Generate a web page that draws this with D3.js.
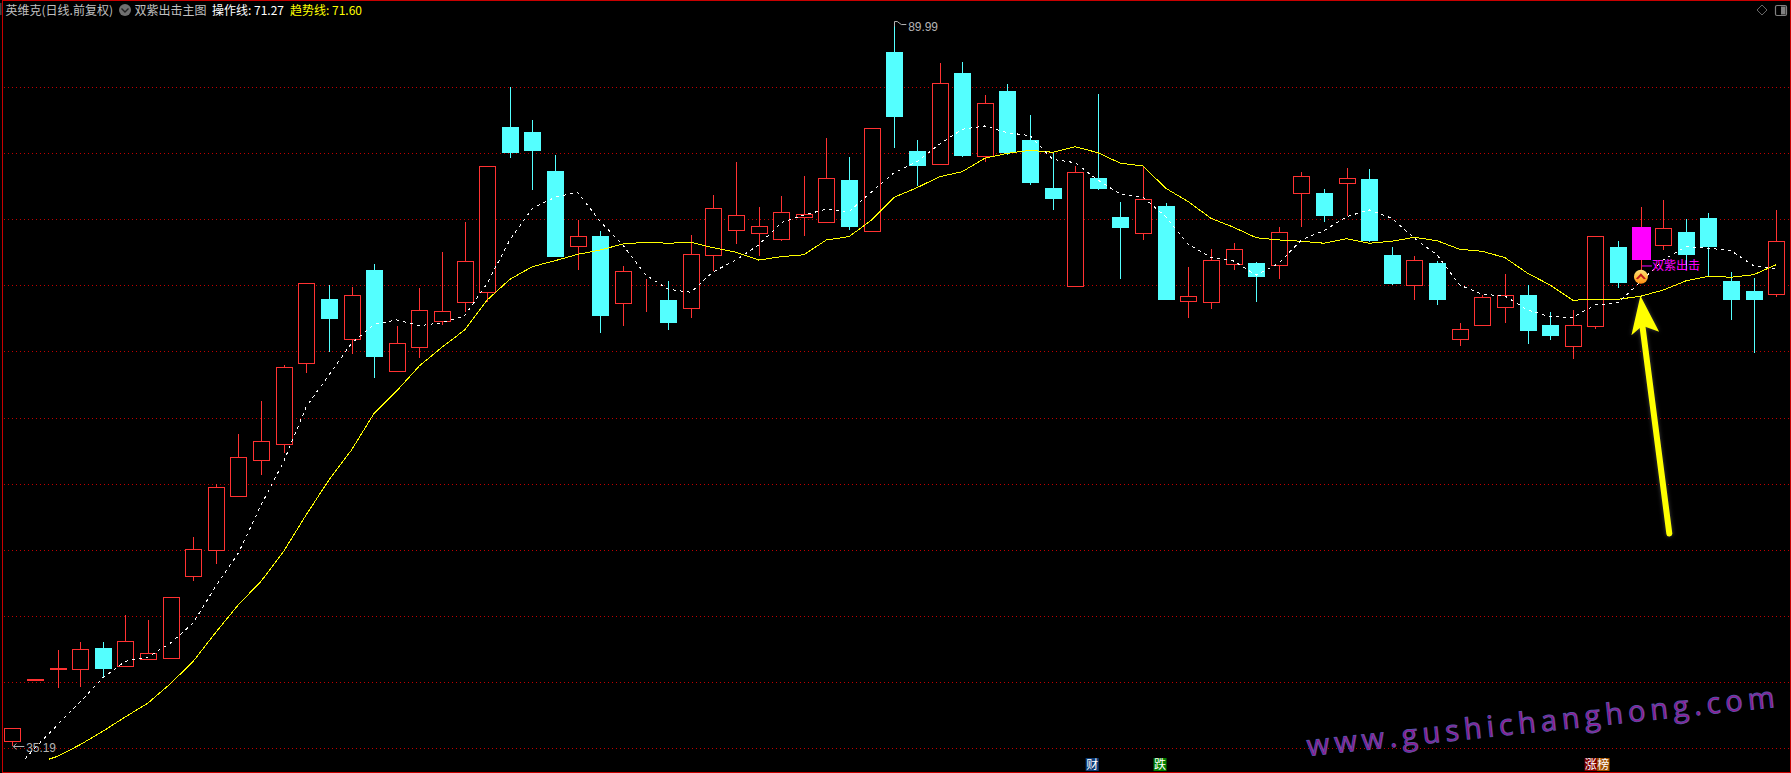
<!DOCTYPE html>
<html><head><meta charset="utf-8">
<script src="https://cdn.jsdelivr.net/npm/d3@7/dist/d3.min.js"></script>
<style>html,body{margin:0;padding:0;background:#000}svg{display:block}</style>
</head><body><svg id="c" width="1791" height="773"></svg>
<script>
const opens=[35.59,40.17,41.00,41.04,42.61,41.27,41.75,41.87,48.03,50.00,
54.08,56.85,58.01,64.14,69.00,66.00,71.20,63.53,65.35,67.32,
68.75,69.56,82.01,81.64,78.69,73.04,73.77,68.68,69.13,68.93,
68.30,72.35,74.20,73.97,73.52,75.18,74.81,78.00,74.12,87.69,
80.20,79.24,86.10,79.84,84.74,81.03,77.40,70.01,78.16,75.21,
74.02,76.04,68.87,68.80,71.67,71.73,71.55,77.00,77.02,77.80,
78.08,72.33,70.09,71.73,66.00,67.06,68.42,69.31,67.04,65.47,
66.98,72.94,74.43,73.11,74.07,75.13,70.37,69.61,69.40];
const closes=[36.53,40.25,41.08,42.51,41.04,43.11,42.20,46.44,50.07,54.76,
57.03,58.24,63.84,70.19,67.51,69.28,64.64,65.65,68.15,68.07,
71.85,79.04,80.07,80.22,72.20,73.75,67.74,71.10,69.13,67.21,
72.38,75.86,75.33,74.50,75.56,75.41,78.13,74.47,81.92,82.79,
79.06,85.32,79.82,83.81,80.05,77.78,76.57,78.59,77.32,74.37,
76.54,68.95,69.21,71.93,72.76,70.69,74.05,78.28,75.30,78.13,
73.39,70.14,71.93,68.95,66.71,69.13,69.28,66.61,66.23,67.01,
73.75,70.24,71.98,74.35,72.35,72.94,68.95,68.95,73.37];
const highs=[36.53,40.25,42.45,43.04,43.04,45.08,44.70,46.44,51.00,55.01,
58.79,61.29,63.99,70.19,70.04,69.89,71.65,66.96,69.84,72.58,
74.83,79.04,85.02,82.52,79.87,74.96,74.12,71.48,70.49,70.34,
73.82,76.85,79.34,75.94,76.77,78.28,81.16,79.72,81.92,89.99,
81.03,86.83,86.93,84.41,85.24,82.90,80.10,79.04,84.51,76.34,
79.01,76.24,71.40,72.76,73.22,71.78,74.43,78.59,77.30,78.89,
78.81,72.91,72.23,71.88,67.17,69.33,70.87,70.04,68.00,68.15,
73.75,73.37,75.94,76.49,75.03,75.49,71.02,70.57,75.71];
const lows=[35.19,40.17,39.60,39.68,40.41,41.27,41.75,41.87,47.70,48.98,
54.08,55.71,57.38,63.43,65.02,64.87,63.05,63.53,64.56,67.04,
68.04,68.75,79.69,77.27,72.20,71.22,66.45,66.98,68.04,66.68,
67.59,71.10,73.19,72.28,73.41,73.79,74.81,74.25,74.12,80.45,
77.57,79.24,79.77,79.39,79.92,77.63,75.74,70.01,77.25,70.54,
73.47,68.95,67.59,68.27,71.22,68.80,70.54,74.47,74.85,75.28,
73.32,70.06,68.95,68.57,65.47,67.06,67.21,65.62,65.93,64.49,
66.76,69.86,71.05,72.73,71.20,70.74,67.44,64.94,69.18];
// 操作线, from the second candle on
const opLead=[0.56,34.21];
const opLine=[35.04,36.80,38.52,40.34,41.60,41.92,42.98,44.50,47.29,
49.79,53.42,56.70,60.86,63.25,65.65,67.09,67.42,66.98,67.21,
67.72,70.19,73.47,75.86,76.70,77.07,74.85,73.09,70.82,69.74,
69.51,71.07,71.95,73.09,74.77,75.36,75.79,75.61,77.12,78.56,
79.39,80.71,81.84,82.09,81.58,81.36,79.57,79.31,78.00,76.92,
76.70,75.23,73.14,72.16,71.88,70.80,71.70,73.47,74.17,75.23,
75.74,75.11,73.60,72.33,70.06,69.36,69.23,68.17,67.66,67.62,
68.55,68.72,70.31,71.95,72.96,72.84,72.66,71.52,71.27];
// 趋势线, from the third candle on
const trendLead=[1.62,34.19];
const trendLine=[34.41,35.29,36.30,37.39,38.44,39.91,41.60,43.79,
45.88,47.65,49.92,52.69,55.31,57.58,60.36,62.05,63.94,65.35,
66.66,68.93,70.49,71.45,71.90,72.38,72.71,73.16,73.29,73.22,
73.29,72.88,72.54,71.95,72.20,72.35,73.47,73.72,74.98,76.70,
77.42,78.25,78.63,79.65,80.02,80.25,80.10,80.52,80.07,79.27,
79.06,77.38,76.36,75.11,74.43,73.64,73.47,73.37,73.22,73.56,
73.22,73.37,73.67,73.41,72.76,72.61,72.13,70.95,70.06,68.91,
68.98,68.98,69.21,69.68,70.37,70.72,70.65,70.84,71.60];
const gridPrices=[35,40,45,50,55,60,65,70,75,80,85];
const highlightIndex=72;
const maxIndex=39, minIndex=0;
const arrowTip=[72,69.24], arrowTail=[73.27,51.26];
const eventTags=[
 {i:47.75,t:"财",bg:"#0c3c78",w:13},
 {i:50.75,t:"跌",bg:"#008000",w:13},
 {i:69.8,t:"涨",bg:"#800000",w:12.5},
 {i:70.35,t:"榜",bg:"#a05000",w:12.5}];

const RED="#ff3232",CYAN="#54ffff",CJK="'Noto Sans CJK SC','Liberation Sans',sans-serif";
const svg=d3.select("#c");
const W=1791,H=773;
const x=d3.scaleLinear().domain([0,78]).range([12.3,1776.3]);
const y=d3.scaleLinear().domain([35,85]).range([748.5,87.5]);
const snap=v=>Math.floor(v)+0.5;
const snapX=v=>Math.round(v)+0.5;

svg.append("rect").attr("width",W).attr("height",H).attr("fill","#000");

// grid
svg.append("g").selectAll("line").data(gridPrices).join("line")
 .attr("x1",4).attr("x2",1789)
 .attr("y1",d=>snap(y(d))).attr("y2",d=>snap(y(d)))
 .attr("stroke","#c00000").attr("stroke-width",1).attr("stroke-dasharray","1,3")
 .attr("shape-rendering","crispEdges");

// candles
const candles=opens.map((o,i)=>({i,o,c:closes[i],h:highs[i],l:lows[i]}));
const cg=svg.append("g").attr("shape-rendering","crispEdges");
candles.forEach(d=>{
  const up=d.c>=d.o, cx=snapX(x(d.i)), hl=d.i===highlightIndex;
  const top=Math.round(y(Math.max(d.o,d.c))), bot=Math.round(y(Math.min(d.o,d.c)));
  const wc=up||hl?RED:CYAN;
  cg.append("line").attr("x1",cx).attr("x2",cx).attr("y1",Math.round(y(d.h))).attr("y2",top).attr("stroke",wc);
  cg.append("line").attr("x1",cx).attr("x2",cx).attr("y1",bot).attr("y2",Math.round(y(d.l))).attr("stroke",wc);
  if(hl){
    cg.append("rect").attr("x",cx-9.5).attr("y",top).attr("width",19).attr("height",bot-top).attr("fill","#ff00ff");
  }else if(up){
    cg.append("rect").attr("x",cx-8).attr("y",top+0.5).attr("width",16).attr("height",bot-top)
      .attr("fill","#000").attr("stroke",RED).attr("stroke-width",1);
  }else{
    cg.append("rect").attr("x",cx-8.5).attr("y",top).attr("width",17).attr("height",bot-top).attr("fill",CYAN);
  }
});

// lines
const line=d3.line().x(d=>x(d[0])).y(d=>y(d[1]));
const opPts=[opLead,...opLine.map((v,i)=>[i+1,v])];
const trPts=[trendLead,...trendLine.map((v,i)=>[i+2,v])];
svg.append("path").attr("d",line(trPts)).attr("fill","none").attr("stroke","#ffff00").attr("stroke-width",1).attr("shape-rendering","crispEdges");
svg.append("path").attr("d",line(opPts)).attr("fill","none").attr("stroke","#ffffff").attr("stroke-width",1).attr("stroke-dasharray","3,4").attr("shape-rendering","crispEdges");

// high / low labels
const ax=x(maxIndex), ay=y(highs[maxIndex]);
svg.append("path").attr("d",`M${snapX(ax)},${ay+5}V${ay}H${ax+3}L${ax+7},${ay+3}H${ax+12}`).attr("fill","none").attr("stroke","#b4b4b4");
svg.append("text").attr("x",ax+14).attr("y",ay+9.5).text(highs[maxIndex].toFixed(2))
  .attr("fill","#b4b4b4").attr("font-family","'Liberation Sans',sans-serif").attr("font-size",12).attr("letter-spacing",-0.1);
const bx=x(minIndex), by=y(lows[minIndex]);
svg.append("path").attr("d",`M${bx+12},${by+0.5}H${bx+1}M${bx+4},${by-2.5}L${bx+1},${by+0.5}L${bx+4},${by+3.5}`).attr("fill","none").attr("stroke","#b4b4b4");
svg.append("text").attr("x",bx+14).attr("y",by+6.5).text(lows[minIndex].toFixed(2))
  .attr("fill","#b4b4b4").attr("font-family","'Liberation Sans',sans-serif").attr("font-size",12).attr("letter-spacing",-0.1);

// signal icon and label
const defs=svg.append("defs");
const g=defs.append("linearGradient").attr("id","ico").attr("x1",0).attr("x2",0).attr("y1",0).attr("y2",1);
g.append("stop").attr("offset","0").attr("stop-color","#ffe27a");
g.append("stop").attr("offset","0.5").attr("stop-color","#ffc040");
g.append("stop").attr("offset","1").attr("stop-color","#ff8a10");
const ix=x(highlightIndex)+0.3, iy=y(70.68);
svg.append("circle").attr("cx",ix).attr("cy",iy).attr("r",7).attr("fill","url(#ico)");
svg.append("path").attr("d",`M${ix-5},${iy+2}L${ix},${iy-3.5}L${ix+5},${iy+2}L${ix+3},${iy+2.5}L${ix},${iy-0.5}L${ix-3},${iy+2.5}Z`).attr("fill","#c01818");
const ly=y(71.5);
svg.append("line").attr("x1",ix+1).attr("x2",ix+11).attr("y1",ly).attr("y2",ly).attr("stroke","#ff00ff");
svg.append("text").attr("x",ix+11).attr("y",ly+4.5).text("双紫出击").attr("fill","#ff00ff").attr("font-family",CJK).attr("font-size",12);

// watermark
svg.append("text").attr("transform","translate(1308,756) rotate(-6)")
  .attr("textLength",470).attr("lengthAdjust","spacing")
  .attr("font-family","'Open Sans',sans-serif").attr("font-size",29).attr("font-weight",400)
  .attr("fill","#a0108c").attr("stroke","#5a50a8").attr("stroke-width",1).text("www.gushichanghong.com");

// event tags along the bottom
const tg=svg.append("g");
eventTags.forEach(d=>{
  const tx=x(d.i);
  tg.append("rect").attr("x",tx-d.w/2).attr("y",758).attr("width",d.w).attr("height",13).attr("fill",d.bg);
  tg.append("text").attr("x",tx).attr("y",769).attr("text-anchor","middle").attr("fill","#fff")
    .attr("font-family",CJK).attr("font-size",12).text(d.t);
});

// big arrow
const tx=x(arrowTip[0])-0.2, ty=y(arrowTip[1]), ex=x(arrowTail[0]), ey=y(arrowTail[1]);
const ag=svg.append("g").style("filter","drop-shadow(0 0 2px rgba(150,150,150,0.45))");
ag.append("line").attr("x1",tx+2).attr("y1",ty+30).attr("x2",ex).attr("y2",ey)
  .attr("stroke","#ffff00").attr("stroke-width",6).attr("stroke-linecap","round");
ag.append("path").attr("d",`M${tx},${ty}L${tx+18.7},${ty+36}L${tx+2},${ty+30}L${tx-9},${ty+39.3}Z`).attr("fill","#ffff00");

// frame
const fr=svg.append("g").attr("shape-rendering","crispEdges").attr("fill","#c80000");
fr.append("rect").attr("x",2).attr("y",0).attr("width",W-2).attr("height",1);
fr.append("rect").attr("x",2).attr("y",0).attr("width",1).attr("height",H-1);
fr.append("rect").attr("x",1790).attr("y",0).attr("width",1).attr("height",H-1);
fr.append("rect").attr("x",2).attr("y",772).attr("width",W-2).attr("height",1);
svg.append("rect").attr("x",0).attr("y",3).attr("width",1.5).attr("height",12).attr("fill","#444");

// header
function hdr(px,s,col){svg.append("text").attr("x",px).attr("y",14.5).text(s).attr("fill",col).attr("font-family",CJK).attr("font-size",12);}
hdr(5.5,"英维克(日线.前复权)","#c0c0c0");
svg.append("circle").attr("cx",125).attr("cy",10).attr("r",6).attr("fill","#707070");
svg.append("path").attr("d","M121.5,8.5L125,12L128.5,8.5").attr("fill","none").attr("stroke","#222").attr("stroke-width",1.4);
hdr(134.5,"双紫出击主图","#c0c0c0");
hdr(212,"操作线: "+opLine[opLine.length-1].toFixed(2),"#ffffff");
hdr(290,"趋势线: "+trendLine[trendLine.length-1].toFixed(2),"#ffff00");

// top-right buttons
svg.append("path").attr("d","M1762,5L1767,10L1762,15L1757,10Z").attr("fill","none").attr("stroke","#666");
svg.append("rect").attr("x",1775.5).attr("y",5.5).attr("width",11).attr("height",10).attr("rx",1.5).attr("fill","none").attr("stroke","#808080").attr("stroke-width",1.2);
svg.append("rect").attr("x",1781).attr("y",6.5).attr("width",4.5).attr("height",8).attr("fill","#808080");
</script></body></html>
